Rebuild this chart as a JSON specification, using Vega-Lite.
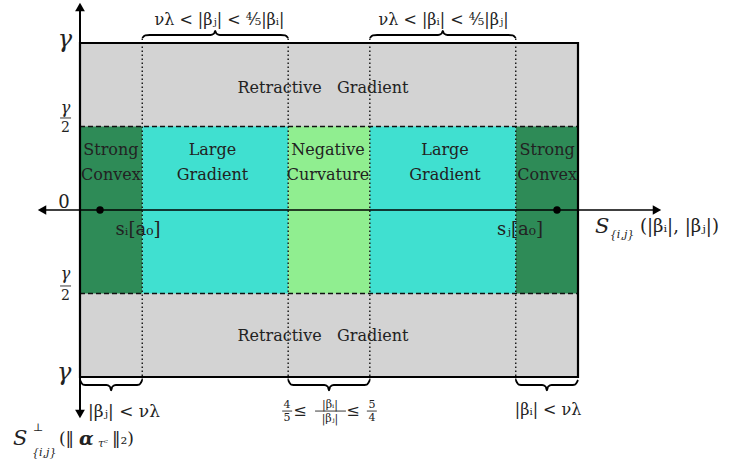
{
  "$schema": "https://vega.github.io/schema/vega-lite/v6.json",
  "width": 733,
  "height": 464,
  "autosize": {"type": "fit", "contains": "padding"},
  "padding": 0,
  "background": "white",
  "config": {"view": {"stroke": null}, "text": {"font": "DejaVu Serif", "color": "#222222", "baseline": "middle"}},
  "datasets": {
    "regions": [
      {"x": 0, "x2": 10, "y": -1, "y2": 1, "r": "Retractive Gradient"},
      {"x": 0, "x2": 1.25, "y": -0.5, "y2": 0.5, "r": "Strong Convex"},
      {"x": 8.75, "x2": 10, "y": -0.5, "y2": 0.5, "r": "Strong Convex"},
      {"x": 1.25, "x2": 4.18, "y": -0.5, "y2": 0.5, "r": "Large Gradient"},
      {"x": 5.82, "x2": 8.75, "y": -0.5, "y2": 0.5, "r": "Large Gradient"},
      {"x": 4.18, "x2": 5.82, "y": -0.5, "y2": 0.5, "r": "Negative Curvature"}
    ],
    "rules": [
      {"x": 1.25, "x2": 1.25, "y": -1.018, "y2": 1.03, "k": "dot"},
      {"x": 4.18, "x2": 4.18, "y": -1.018, "y2": 1.03, "k": "dot"},
      {"x": 5.82, "x2": 5.82, "y": -1.018, "y2": 1.03, "k": "dot"},
      {"x": 8.75, "x2": 8.75, "y": -1.018, "y2": 1.03, "k": "dot"},
      {"x": 0, "x2": 10, "y": 0.5, "y2": 0.5, "k": "dash"},
      {"x": 0, "x2": 10, "y": -0.5, "y2": -0.5, "k": "dash"},
      {"x": -0.763, "x2": 11.586, "y": 0, "y2": 0, "k": "axisH"},
      {"x": 0, "x2": 0, "y": 1.216, "y2": -1.222, "k": "axisV"},
      {"x": -0.4, "x2": -0.18, "y": 0.551, "y2": 0.551, "k": "bar"},
      {"x": -0.4, "x2": -0.18, "y": -0.455, "y2": -0.455, "k": "bar"},
      {"x": 4.06, "x2": 4.26, "y": -1.204, "y2": -1.204, "k": "bar"},
      {"x": 4.72, "x2": 5.34, "y": -1.204, "y2": -1.204, "k": "bar"},
      {"x": 5.76, "x2": 5.96, "y": -1.204, "y2": -1.204, "k": "bar"}
    ],
    "arrows": [
      {"x": -0.763, "y": 0, "d": "left"},
      {"x": 11.586, "y": 0, "d": "right"},
      {"x": 0, "y": 1.216, "d": "up"},
      {"x": 0, "y": -1.222, "d": "down"}
    ],
    "dots": [
      {"x": 0.402, "y": 0},
      {"x": 9.578, "y": 0}
    ],
    "braces": [
      {"g": "t1", "o": 1, "x": 1.25, "y": 1.03},
      {"g": "t1", "o": 2, "x": 1.31, "y": 1.045},
      {"g": "t1", "o": 3, "x": 1.4, "y": 1.048},
      {"g": "t1", "o": 4, "x": 2.62, "y": 1.048},
      {"g": "t1", "o": 5, "x": 2.69, "y": 1.056},
      {"g": "t1", "o": 6, "x": 2.715, "y": 1.073},
      {"g": "t1", "o": 7, "x": 2.74, "y": 1.056},
      {"g": "t1", "o": 8, "x": 2.81, "y": 1.048},
      {"g": "t1", "o": 9, "x": 4.03, "y": 1.048},
      {"g": "t1", "o": 10, "x": 4.12, "y": 1.045},
      {"g": "t1", "o": 11, "x": 4.18, "y": 1.03},
      {"g": "t2", "o": 1, "x": 5.82, "y": 1.03},
      {"g": "t2", "o": 2, "x": 5.88, "y": 1.045},
      {"g": "t2", "o": 3, "x": 5.97, "y": 1.048},
      {"g": "t2", "o": 4, "x": 7.19, "y": 1.048},
      {"g": "t2", "o": 5, "x": 7.26, "y": 1.056},
      {"g": "t2", "o": 6, "x": 7.285, "y": 1.073},
      {"g": "t2", "o": 7, "x": 7.31, "y": 1.056},
      {"g": "t2", "o": 8, "x": 7.38, "y": 1.048},
      {"g": "t2", "o": 9, "x": 8.6, "y": 1.048},
      {"g": "t2", "o": 10, "x": 8.69, "y": 1.045},
      {"g": "t2", "o": 11, "x": 8.75, "y": 1.03},
      {"g": "b1", "o": 1, "x": 0, "y": -1.018},
      {"g": "b1", "o": 2, "x": 0.06, "y": -1.045},
      {"g": "b1", "o": 3, "x": 0.15, "y": -1.048},
      {"g": "b1", "o": 4, "x": 0.53, "y": -1.048},
      {"g": "b1", "o": 5, "x": 0.6, "y": -1.058},
      {"g": "b1", "o": 6, "x": 0.625, "y": -1.08},
      {"g": "b1", "o": 7, "x": 0.65, "y": -1.058},
      {"g": "b1", "o": 8, "x": 0.72, "y": -1.048},
      {"g": "b1", "o": 9, "x": 1.1, "y": -1.048},
      {"g": "b1", "o": 10, "x": 1.19, "y": -1.045},
      {"g": "b1", "o": 11, "x": 1.25, "y": -1.018},
      {"g": "b2", "o": 1, "x": 4.18, "y": -1.018},
      {"g": "b2", "o": 2, "x": 4.24, "y": -1.045},
      {"g": "b2", "o": 3, "x": 4.33, "y": -1.048},
      {"g": "b2", "o": 4, "x": 4.905, "y": -1.048},
      {"g": "b2", "o": 5, "x": 4.975, "y": -1.058},
      {"g": "b2", "o": 6, "x": 5.0, "y": -1.08},
      {"g": "b2", "o": 7, "x": 5.025, "y": -1.058},
      {"g": "b2", "o": 8, "x": 5.095, "y": -1.048},
      {"g": "b2", "o": 9, "x": 5.67, "y": -1.048},
      {"g": "b2", "o": 10, "x": 5.76, "y": -1.045},
      {"g": "b2", "o": 11, "x": 5.82, "y": -1.018},
      {"g": "b3", "o": 1, "x": 8.75, "y": -1.018},
      {"g": "b3", "o": 2, "x": 8.81, "y": -1.045},
      {"g": "b3", "o": 3, "x": 8.9, "y": -1.048},
      {"g": "b3", "o": 4, "x": 9.28, "y": -1.048},
      {"g": "b3", "o": 5, "x": 9.35, "y": -1.058},
      {"g": "b3", "o": 6, "x": 9.375, "y": -1.08},
      {"g": "b3", "o": 7, "x": 9.4, "y": -1.058},
      {"g": "b3", "o": 8, "x": 9.47, "y": -1.048},
      {"g": "b3", "o": 9, "x": 9.85, "y": -1.048},
      {"g": "b3", "o": 10, "x": 9.94, "y": -1.045},
      {"g": "b3", "o": 11, "x": 10, "y": -1.018}
    ],
    "texts": [
      {"s": "lab", "t": "Retractive\u00a0\u00a0\u00a0Gradient", "x": 4.88, "y": 0.73},
      {"s": "lab", "t": "Retractive\u00a0\u00a0\u00a0Gradient", "x": 4.88, "y": -0.754},
      {"s": "lab", "t": "Strong", "x": 0.62, "y": 0.359},
      {"s": "lab", "t": "Convex", "x": 0.62, "y": 0.21},
      {"s": "lab", "t": "Strong", "x": 9.38, "y": 0.359},
      {"s": "lab", "t": "Convex", "x": 9.38, "y": 0.21},
      {"s": "lab", "t": "Large", "x": 2.66, "y": 0.359},
      {"s": "lab", "t": "Gradient", "x": 2.66, "y": 0.21},
      {"s": "lab", "t": "Large", "x": 7.33, "y": 0.359},
      {"s": "lab", "t": "Gradient", "x": 7.33, "y": 0.21},
      {"s": "lab", "t": "Negative", "x": 4.98, "y": 0.359},
      {"s": "lab", "t": "Curvature", "x": 4.98, "y": 0.21},
      {"s": "math", "t": "νλ < |βⱼ| < ⅘|βᵢ|", "x": 2.8, "y": 1.138},
      {"s": "math", "t": "νλ < |βᵢ| < ⅘|βⱼ|", "x": 7.3, "y": 1.138},
      {"s": "mathB", "t": "sᵢ[a₀]", "x": 1.165, "y": -0.12},
      {"s": "mathB", "t": "sⱼ[a₀]", "x": 8.835, "y": -0.12},
      {"s": "math", "t": "|βᵢ| < νλ", "x": 9.4, "y": -1.198},
      {"s": "mathL", "t": "|βⱼ| < νλ", "x": 0.161, "y": -1.21},
      {"s": "mathR", "t": "(|βᵢ|, |βⱼ|)", "x": 11.245, "y": -0.102},
      {"s": "mathL", "t": "(‖", "x": -0.422, "y": -1.371},
      {"s": "alpha", "t": "α", "x": -0.02, "y": -1.371},
      {"s": "mathL", "t": "‖₂)", "x": 0.643, "y": -1.371},
      {"s": "S", "t": "S", "x": 10.34, "y": -0.102},
      {"s": "S", "t": "S", "x": -1.345, "y": -1.371},
      {"s": "sub", "t": "{i,j}", "x": 10.64, "y": -0.15},
      {"s": "sub", "t": "{i,j}", "x": -0.964, "y": -1.455},
      {"s": "sub", "t": "⊥", "x": -0.944, "y": -1.305},
      {"s": "sub", "t": "τᶜ", "x": 0.361, "y": -1.4},
      {"s": "big", "t": "γ", "x": -0.301, "y": 1.02},
      {"s": "big", "t": "γ", "x": -0.32, "y": -0.975},
      {"s": "zero", "t": "0", "x": -0.321, "y": 0.042},
      {"s": "frac", "t": "γ", "x": -0.29, "y": 0.612},
      {"s": "den", "t": "2", "x": -0.29, "y": 0.493},
      {"s": "frac", "t": "γ", "x": -0.29, "y": -0.383},
      {"s": "den", "t": "2", "x": -0.29, "y": -0.513},
      {"s": "small", "t": "4", "x": 4.157, "y": -1.166},
      {"s": "small", "t": "5", "x": 4.157, "y": -1.246},
      {"s": "small", "t": "|βᵢ|", "x": 5.02, "y": -1.166},
      {"s": "small", "t": "|βⱼ|", "x": 5.02, "y": -1.25},
      {"s": "small", "t": "5", "x": 5.863, "y": -1.166},
      {"s": "small", "t": "4", "x": 5.863, "y": -1.246},
      {"s": "leq", "t": "≤", "x": 4.418, "y": -1.204},
      {"s": "leq", "t": "≤", "x": 5.482, "y": -1.204}
    ]
  },
  "encoding": {
    "x": {"field": "x", "type": "quantitative", "axis": null, "scale": {"domain": [-1.6064, 13.1124], "nice": false, "zero": false}},
    "y": {"field": "y", "type": "quantitative", "axis": null, "scale": {"domain": [-1.521, 1.2575], "nice": false, "zero": false}}
  },
  "layer": [
    {
      "data": {"name": "regions"},
      "mark": {"type": "rect"},
      "encoding": {
        "x2": {"field": "x2"},
        "y2": {"field": "y2"},
        "color": {"field": "r", "type": "nominal", "legend": null,
          "scale": {"domain": ["Retractive Gradient", "Strong Convex", "Large Gradient", "Negative Curvature"], "range": ["#d3d3d3", "#2e8b57", "#40e0d0", "#90ee90"]}}
      }
    },
    {
      "data": {"name": "rules"},
      "transform": [{"filter": "datum.k === 'dot'"}],
      "mark": {"type": "rule", "color": "#111111", "strokeWidth": 1.4, "strokeDash": [1.4, 2.6]},
      "encoding": {"x2": {"field": "x2"}, "y2": {"field": "y2"}}
    },
    {
      "data": {"name": "rules"},
      "transform": [{"filter": "datum.k === 'dash'"}],
      "mark": {"type": "rule", "color": "#111111", "strokeWidth": 1.3, "strokeDash": [5, 3]},
      "encoding": {"x2": {"field": "x2"}, "y2": {"field": "y2"}}
    },
    {
      "data": {"values": [{"x": 0, "x2": 10, "y": -1, "y2": 1}]},
      "mark": {"type": "rect", "filled": false, "stroke": "black", "strokeWidth": 2.2},
      "encoding": {"x2": {"field": "x2"}, "y2": {"field": "y2"}}
    },
    {
      "data": {"name": "rules"},
      "transform": [{"filter": "datum.k === 'axisH'"}],
      "mark": {"type": "rule", "color": "black", "strokeWidth": 1.5},
      "encoding": {"x2": {"field": "x2"}, "y2": {"field": "y2"}}
    },
    {
      "data": {"name": "rules"},
      "transform": [{"filter": "datum.k === 'axisV'"}],
      "mark": {"type": "rule", "color": "black", "strokeWidth": 2},
      "encoding": {"x2": {"field": "x2"}, "y2": {"field": "y2"}}
    },
    {
      "data": {"name": "rules"},
      "transform": [{"filter": "datum.k === 'bar'"}],
      "mark": {"type": "rule", "color": "#222222", "strokeWidth": 0.9},
      "encoding": {"x2": {"field": "x2"}, "y2": {"field": "y2"}}
    },
    {
      "data": {"name": "arrows"},
      "mark": {"type": "point", "filled": true, "color": "black", "opacity": 1, "size": 95},
      "encoding": {
        "shape": {"field": "d", "type": "nominal", "legend": null,
          "scale": {"domain": ["left", "right", "up", "down"], "range": ["triangle-left", "triangle-right", "triangle-up", "triangle-down"]}}
      }
    },
    {
      "data": {"name": "dots"},
      "mark": {"type": "circle", "color": "black", "opacity": 1, "size": 55}
    },
    {
      "data": {"name": "braces"},
      "mark": {"type": "line", "color": "black", "strokeWidth": 1.8, "interpolate": "monotone"},
      "encoding": {"detail": {"field": "g"}, "order": {"field": "o", "type": "quantitative"}}
    },
    {
      "data": {"name": "texts"},
      "transform": [{"filter": "datum.s === 'lab'"}],
      "mark": {"type": "text", "fontSize": 16, "align": "center"},
      "encoding": {"text": {"field": "t"}}
    },
    {
      "data": {"name": "texts"},
      "transform": [{"filter": "datum.s === 'math'"}],
      "mark": {"type": "text", "fontSize": 16, "align": "center"},
      "encoding": {"text": {"field": "t"}}
    },
    {
      "data": {"name": "texts"},
      "transform": [{"filter": "datum.s === 'mathB'"}],
      "mark": {"type": "text", "fontSize": 18, "align": "center"},
      "encoding": {"text": {"field": "t"}}
    },
    {
      "data": {"name": "texts"},
      "transform": [{"filter": "datum.s === 'mathL'"}],
      "mark": {"type": "text", "fontSize": 17, "align": "left"},
      "encoding": {"text": {"field": "t"}}
    },
    {
      "data": {"name": "texts"},
      "transform": [{"filter": "datum.s === 'mathR'"}],
      "mark": {"type": "text", "fontSize": 18, "align": "left"},
      "encoding": {"text": {"field": "t"}}
    },
    {
      "data": {"name": "texts"},
      "transform": [{"filter": "datum.s === 'alpha'"}],
      "mark": {"type": "text", "fontSize": 19, "fontWeight": "bold", "fontStyle": "italic", "align": "left"},
      "encoding": {"text": {"field": "t"}}
    },
    {
      "data": {"name": "texts"},
      "transform": [{"filter": "datum.s === 'S'"}],
      "mark": {"type": "text", "fontSize": 21, "fontStyle": "italic", "align": "left"},
      "encoding": {"text": {"field": "t"}}
    },
    {
      "data": {"name": "texts"},
      "transform": [{"filter": "datum.s === 'sub'"}],
      "mark": {"type": "text", "fontSize": 11, "fontStyle": "italic", "align": "left"},
      "encoding": {"text": {"field": "t"}}
    },
    {
      "data": {"name": "texts"},
      "transform": [{"filter": "datum.s === 'big'"}],
      "mark": {"type": "text", "fontSize": 24, "fontStyle": "italic", "align": "center"},
      "encoding": {"text": {"field": "t"}}
    },
    {
      "data": {"name": "texts"},
      "transform": [{"filter": "datum.s === 'zero'"}],
      "mark": {"type": "text", "fontSize": 18, "align": "center"},
      "encoding": {"text": {"field": "t"}}
    },
    {
      "data": {"name": "texts"},
      "transform": [{"filter": "datum.s === 'frac'"}],
      "mark": {"type": "text", "fontSize": 16, "fontStyle": "italic", "align": "center"},
      "encoding": {"text": {"field": "t"}}
    },
    {
      "data": {"name": "texts"},
      "transform": [{"filter": "datum.s === 'den'"}],
      "mark": {"type": "text", "fontSize": 14, "align": "center"},
      "encoding": {"text": {"field": "t"}}
    },
    {
      "data": {"name": "texts"},
      "transform": [{"filter": "datum.s === 'small'"}],
      "mark": {"type": "text", "fontSize": 11, "align": "center"},
      "encoding": {"text": {"field": "t"}}
    },
    {
      "data": {"name": "texts"},
      "transform": [{"filter": "datum.s === 'leq'"}],
      "mark": {"type": "text", "fontSize": 16, "align": "center"},
      "encoding": {"text": {"field": "t"}}
    }
  ]
}
